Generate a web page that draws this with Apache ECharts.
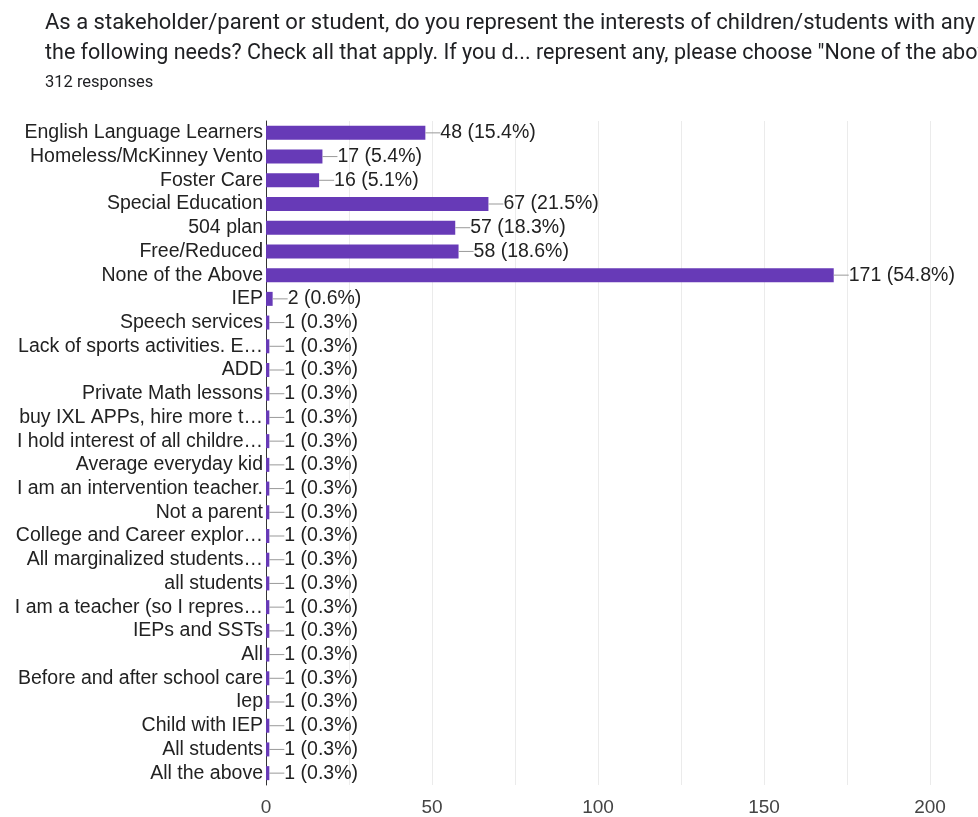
<!DOCTYPE html>
<html><head><meta charset="utf-8">
<script src="https://cdn.jsdelivr.net/npm/echarts@6/dist/echarts.min.js"></script>
<style>html,body{margin:0;padding:0;background:#fff}#c{width:978px;height:817px}</style>
</head><body><div id="c"></div>
<script>
const categories = ["English Language Learners","Homeless/McKinney Vento","Foster Care","Special Education","504 plan","Free/Reduced","None of the Above","IEP","Speech services","Lack of sports activities. E…","ADD","Private Math lessons","buy IXL APPs, hire more t…","I hold interest of all childre…","Average everyday kid","I am an intervention teacher.","Not a parent","College and Career explor…","All marginalized students…","all students","I am a teacher (so I repres…","IEPs and SSTs","All","Before and after school care","Iep","Child with IEP","All students","All the above"];
const counts = [48,17,16,67,57,58,171,2,1,1,1,1,1,1,1,1,1,1,1,1,1,1,1,1,1,1,1,1];
const percents = ["15.4","5.4","5.1","21.5","18.3","18.6","54.8","0.6","0.3","0.3","0.3","0.3","0.3","0.3","0.3","0.3","0.3","0.3","0.3","0.3","0.3","0.3","0.3","0.3","0.3","0.3","0.3","0.3"];
const xTicks = [0,50,100,150,200];
const titleLine1 = "As a stakeholder/parent or student, do you represent the interests of children/students with any";
const titleLine2 = "the following needs? Check all that apply. If you d... represent any, please choose \"None of the above\"";
const subtitle = "312 responses";
</script>
<script>
const chart = echarts.init(document.getElementById('c'));
const tfont = 'Roboto, "Noto Sans", sans-serif';
const font = '"Liberation Sans", Arial, sans-serif';
chart.setOption({
  animation: false,
  graphic: [
    {type:'text', left:45, top:12, style:{text:titleLine1, font:'22px ' + tfont, fill:'#202124'}},
    {type:'text', left:45, top:43, style:{text:titleLine2, font:'21.5px ' + tfont, fill:'#202124'}},
    {type:'text', left:45, top:74, style:{text:subtitle, font:'16.5px ' + tfont, fill:'#202124'}}
  ],
  grid: {left:266, right:48, top:121, bottom:32, containLabel:false},
  xAxis: {
    type:'value', min:0, max:200, interval:25,
    axisLine:{show:false}, axisTick:{show:false},
    splitLine:{show:true, lineStyle:{color:'#ebebeb', width:1}},
    axisLabel:{color:'#444', fontSize:19, fontFamily:font, margin:13,
      formatter: v => xTicks.indexOf(v) >= 0 ? String(v) : ''}
  },
  yAxis: {
    type:'category', data:categories, inverse:true,
    axisLine:{show:true, lineStyle:{color:'#333', width:1}},
    axisTick:{show:false},
    axisLabel:{color:'#222', fontSize:19.5, fontFamily:font, margin:3, interval:0}
  },
  series: [{
    type:'bar', data:counts, barWidth:14,
    itemStyle:{color:'#673ab7'},
    label:{show:true, position:'right', distance:0, fontSize:19.5, fontFamily:font, color:'#222',
      formatter: p => '{l|}' + p.value + ' (' + percents[p.dataIndex] + '%)',
      rich:{l:{width:15, height:1, backgroundColor:'#999', padding:0}}
    }
  }]
});
</script>
</body></html>
